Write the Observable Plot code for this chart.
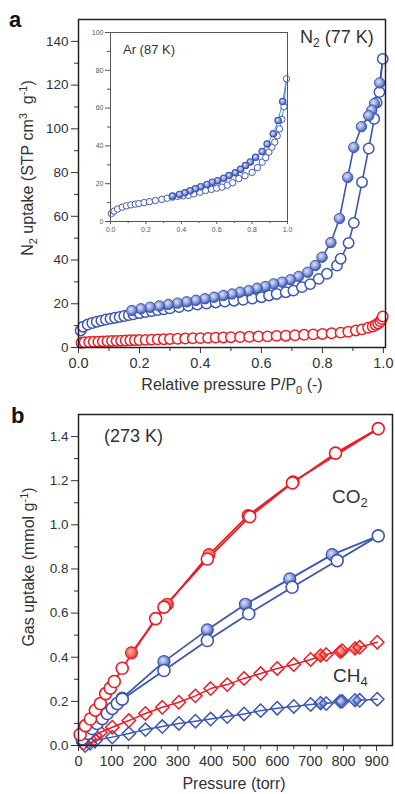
<!DOCTYPE html>
<html><head><meta charset="utf-8">
<script src="https://cdn.jsdelivr.net/npm/d3@7"></script>
<script src="https://cdn.jsdelivr.net/npm/@observablehq/plot@0.6"></script>
<style>
body{margin:0;background:#fff;}
#wrap{position:relative;width:395px;height:794px;overflow:hidden;font-family:"Liberation Sans",Arial,sans-serif;}
#wrap svg{position:absolute;overflow:visible;}
</style></head><body><div id="wrap"></div>
<script>
// ---------- Panel a: N2 at 77 K ----------
const n2BlueAdsX = [0.007,0.015,0.03,0.045,0.06,0.075,0.09,0.105,0.12,0.135,0.15,0.165,0.18,0.2,0.22,0.24,0.26,0.28,0.30,0.33,0.36,0.39,0.42,0.45,0.48,0.51,0.54,0.57,0.60,0.625,0.65,0.68,0.705,0.733,0.76,0.788,0.815,0.848,0.86,0.886,0.903,0.93,0.952,0.970,0.978,0.987,0.998];
const n2BlueAdsY = [7.8,9.5,10.5,11.2,11.8,12.3,12.8,13.2,13.6,14.0,14.4,14.8,15.2,15.7,16.2,16.7,17.1,17.5,17.9,18.5,19.1,19.6,20.1,20.6,21.0,21.4,21.8,22.4,23.0,23.8,24.5,25.3,26.0,27.6,29.0,31.4,33.7,37.5,40.6,47.8,57,75.6,91,104.6,112,116.8,132];
const n2BlueDesX = [0.998,0.988,0.971,0.962,0.952,0.928,0.903,0.883,0.856,0.828,0.799,0.777,0.752,0.722,0.695,0.668,0.64,0.613,0.586,0.558,0.53,0.504,0.475,0.445,0.415,0.385,0.355,0.325,0.295,0.265,0.235,0.205,0.175];
const n2BlueDesY = [132,121,111.6,108.5,106,101,91.5,77.8,59,48,41.3,37.5,34.4,32.5,31,29.9,29.1,27.9,27.1,26,25.3,24.5,23.8,23.0,22.3,21.6,20.9,20.3,19.7,19.0,18.4,17.7,16.9];
const n2RedX = [0.01,0.02,0.035,0.05,0.065,0.08,0.095,0.11,0.125,0.14,0.155,0.17,0.185,0.2,0.22,0.24,0.26,0.28,0.3,0.325,0.35,0.375,0.4,0.425,0.45,0.475,0.5,0.53,0.56,0.59,0.62,0.65,0.68,0.71,0.74,0.77,0.8,0.83,0.86,0.885,0.91,0.93,0.95,0.965,0.975,0.983,0.99,0.995,0.998];
const n2RedY = [2.2,2.4,2.5,2.6,2.7,2.8,2.9,3.0,3.05,3.1,3.2,3.3,3.35,3.4,3.5,3.6,3.7,3.8,3.9,4.0,4.1,4.2,4.3,4.4,4.5,4.6,4.7,4.8,4.9,5.0,5.1,5.3,5.4,5.6,5.8,6.0,6.2,6.5,6.8,7.2,7.8,8.3,9.0,9.6,10.3,11.0,12.0,13.0,14.2];
const n2TicksY = [0,20,40,60,80,100,120,140];
const n2MinorY = [10,30,50,70,90,110,130];
const ppTicks = [0,0.2,0.4,0.6,0.8,1.0];
const ppMinor = [0.1,0.3,0.5,0.7,0.9];

// ---------- Inset: Ar at 87 K ----------
const arAdsX = [0.005,0.02,0.04,0.066,0.09,0.115,0.14,0.16,0.19,0.22,0.254,0.29,0.32,0.35,0.38,0.41,0.44,0.47,0.505,0.537,0.57,0.6,0.63,0.66,0.69,0.725,0.76,0.8,0.83,0.857,0.877,0.895,0.912,0.928,0.942,0.955,0.968,0.98,0.994];
const arAdsY = [4.2,5.5,6.6,7.6,8.3,8.8,9.2,9.5,10.0,10.5,11.1,11.7,12.3,12.9,13.3,13.6,13.8,14.6,15.5,16.4,17.0,17.6,18.2,19.2,20.5,22.7,24.2,26,28.5,31.4,33.8,36.7,39.3,42,45.3,49,54,60.8,75.5];
const arDesX = [0.994,0.973,0.947,0.92,0.885,0.857,0.82,0.79,0.763,0.735,0.705,0.67,0.64,0.605,0.575,0.545,0.51,0.48,0.45,0.42,0.39,0.35];
const arDesY = [75.5,63.5,53.4,46.4,41,37,34,31.5,29.6,27.6,25.8,24.3,22.9,21.6,20.8,19.6,18.4,17.3,16.3,15.2,14.3,13.5];
const arTicksY = [0,20,40,60,80,100];
const arMinorY = [10,30,50,70,90];

// ---------- Panel b: 273 K ----------
const co2RedAdsX = [5,21,36,51,66,82,96,108,132,233,258,389,517,646,776,905];
const co2RedAdsY = [0.05,0.09,0.12,0.16,0.19,0.235,0.26,0.29,0.35,0.575,0.627,0.845,1.037,1.19,1.325,1.436];
const co2RedDesX = [905,648,512,394,268,160];
const co2RedDesY = [1.436,1.195,1.042,0.865,0.64,0.42];
const co2BlueAdsX = [11,28,41,56,72,87,102,117,132,258,389,514,645,781,905];
const co2BlueAdsY = [0.03,0.055,0.077,0.1,0.122,0.145,0.168,0.19,0.21,0.34,0.476,0.597,0.717,0.838,0.95];
const co2BlueDesX = [905,766,638,504,389,258,132];
const co2BlueDesY = [0.95,0.865,0.755,0.64,0.524,0.38,0.215];
const ch4RedAdsX = [15,33,50,66,102,152,202,253,303,353,399,449,500,550,600,650,701,748,796,849,902];
const ch4RedAdsY = [0.01,0.03,0.045,0.06,0.083,0.113,0.145,0.173,0.196,0.225,0.258,0.276,0.304,0.326,0.349,0.367,0.39,0.412,0.43,0.445,0.468];
const ch4RedDesX = [731,790,835];
const ch4RedDesY = [0.408,0.425,0.44];
const ch4BlueAdsX = [20,35,51,102,152,202,253,303,353,399,449,500,550,600,650,701,748,796,849,902];
const ch4BlueAdsY = [0.0,0.01,0.023,0.038,0.054,0.072,0.086,0.1,0.11,0.12,0.131,0.143,0.158,0.169,0.177,0.186,0.19,0.2,0.205,0.21];
const ch4BlueDesX = [731,790,835];
const ch4BlueDesY = [0.192,0.2,0.205];
const gasTicksY = [0,0.2,0.4,0.6,0.8,1.0,1.2,1.4];
const gasMinorY = [0.1,0.3,0.5,0.7,0.9,1.1,1.3];
const torrTicks = [0,100,200,300,400,500,600,700,800,900];
const torrMinor = [50,150,250,350,450,550,650,750,850];

// ---------- helpers ----------
const zip = (xs, ys) => xs.map((x, i) => ({x, y: ys[i]}));
const BLUE = "#3c56b4", RED = "#ec1c24", INK = "#333";
const FONT = "'Liberation Sans', Arial, sans-serif";
const wrap = document.getElementById("wrap");

function place(svg, left, top) { svg.style.left = left + "px"; svg.style.top = top + "px"; wrap.appendChild(svg); return svg; }
function addText(svg, x, y, html, opts = {}) {
  const t = d3.select(svg).append("text")
    .attr("x", x).attr("y", y)
    .attr("font-family", FONT)
    .attr("font-size", opts.size || 16)
    .attr("font-weight", opts.weight || "normal")
    .attr("fill", opts.fill || INK)
    .attr("text-anchor", opts.anchor || "start");
  if (opts.rotate) t.attr("transform", `rotate(-90 ${x} ${y})`);
  t.html(html);
  return t;
}
const sub = (s, fs) => `<tspan dy="4" font-size="${fs}">${s}</tspan><tspan dy="-4">`;
const sup = (s, fs) => `<tspan dy="-6" font-size="${fs}">${s}</tspan><tspan dy="6">`;

// ---------- Panel a ----------
const pa = Plot.plot({
  width: 395, height: 392,
  marginTop: 19, marginBottom: 45, marginLeft: 78, marginRight: 10,
  x: {domain: [0, 1.007]},
  y: {domain: [0, 150]},
  style: {fontFamily: FONT, fontSize: "14px", color: INK, background: "transparent"},
  marks: [
    Plot.axisY({ticks: n2TicksY, tickSize: 7, tickPadding: 3, label: null, fontSize: 13.5}),
    Plot.axisY({ticks: n2MinorY, tickSize: 4, tickFormat: () => "", label: null}),
    Plot.axisX({ticks: ppTicks, tickSize: 6, tickPadding: 4, tickFormat: d3.format(".1f"), label: null, fontSize: 14.5}),
    Plot.axisX({ticks: ppMinor, tickSize: 4, tickFormat: () => "", label: null}),
    Plot.line(zip(n2BlueAdsX, n2BlueAdsY), {x: "x", y: "y", stroke: BLUE, strokeWidth: 1.6}),
    Plot.line(zip(n2BlueDesX, n2BlueDesY), {x: "x", y: "y", stroke: BLUE, strokeWidth: 1.6}),
    Plot.dot(zip(n2RedX, n2RedY), {x: "x", y: "y", r: 5.2, stroke: RED, strokeWidth: 1.5, fill: "white"}),
    Plot.dot(zip(n2BlueAdsX, n2BlueAdsY), {x: "x", y: "y", r: 5.2, stroke: BLUE, strokeWidth: 1.5, fill: "white"}),
    Plot.dot(zip(n2BlueDesX, n2BlueDesY).slice(1), {x: "x", y: "y", r: 5.2, stroke: BLUE, strokeWidth: 1, fill: "url(#gBlue)"}),
    Plot.frame({stroke: "#222", strokeWidth: 1.5})
  ]
});
place(pa, 0, 0);
d3.select(pa).insert("defs", ":first-child").html(`
  <radialGradient id="gBlue" cx="40%" cy="38%" r="62%">
    <stop offset="0" stop-color="#dde3f6"/><stop offset="0.55" stop-color="#8d9fdb"/><stop offset="1" stop-color="#3c56b4"/>
  </radialGradient>
  <radialGradient id="gRed" cx="40%" cy="38%" r="62%">
    <stop offset="0" stop-color="#f7b5a8"/><stop offset="0.55" stop-color="#ee7060"/><stop offset="1" stop-color="#e03a2a"/>
  </radialGradient>`);
addText(pa, 9, 27, "a", {size: 22, weight: "bold", fill: "#111"});
addText(pa, 300, 43, "N" + sub("2", 12) + " (77 K)</tspan>", {size: 18});
addText(pa, 33, 168, "N" + sub("2", 11) + " uptake (STP cm</tspan>" + sup("3", 11) + "  g</tspan>" + sup("-1", 11) + ")</tspan>", {size: 16, anchor: "middle", rotate: true});
addText(pa, 232, 390, "Relative pressure P/P" + sub("0", 11) + " (-)</tspan>", {size: 16, anchor: "middle"});

// ---------- Inset ----------
const pi = Plot.plot({
  width: 211, height: 215,
  marginTop: 7, marginBottom: 19, marginLeft: 26, marginRight: 8,
  x: {domain: [0, 1]},
  y: {domain: [0, 100]},
  style: {fontFamily: FONT, fontSize: "7px", color: "#555", background: "transparent"},
  marks: [
    Plot.axisY({ticks: arTicksY, tickSize: 5, tickPadding: 2, label: null, fontSize: 7}),
    Plot.axisY({ticks: arMinorY, tickSize: 3, tickFormat: () => "", label: null}),
    Plot.axisX({ticks: ppTicks, tickSize: 3, tickPadding: 3, tickFormat: d3.format(".1f"), label: null, fontSize: 7}),
    Plot.axisX({ticks: ppMinor, tickSize: 2, tickFormat: () => "", label: null}),
    Plot.line(zip(arAdsX, arAdsY), {x: "x", y: "y", stroke: "#3f8fd6", strokeWidth: 1}),
    Plot.line(zip(arDesX, arDesY), {x: "x", y: "y", stroke: "#3f8fd6", strokeWidth: 1}),
    Plot.dot(zip(arAdsX, arAdsY), {x: "x", y: "y", r: 3.2, stroke: "#4459bd", strokeWidth: 1, fill: "white"}),
    Plot.dot(zip(arDesX, arDesY).slice(1), {x: "x", y: "y", r: 3.2, stroke: "#3c56b4", strokeWidth: 1.2, fill: "url(#gBlue)"}),
    Plot.frame({stroke: "#555", strokeWidth: 1})
  ]
});
place(pi, 84, 25);
addText(pi, 39, 29, "Ar (87 K)", {size: 13});

// ---------- Panel b ----------
const pb = Plot.plot({
  width: 395, height: 402,
  marginTop: 22, marginBottom: 49, marginLeft: 78, marginRight: 3,
  x: {domain: [0, 948]},
  y: {domain: [0, 1.5]},
  style: {fontFamily: FONT, fontSize: "14px", color: INK, background: "transparent"},
  marks: [
    Plot.axisY({ticks: gasTicksY, tickSize: 7, tickPadding: 3, tickFormat: d3.format(".1f"), label: null, fontSize: 13.5}),
    Plot.axisY({ticks: gasMinorY, tickSize: 4, tickFormat: () => "", label: null}),
    Plot.axisX({ticks: torrTicks, tickSize: 6, tickPadding: 4, label: null, fontSize: 14.5}),
    Plot.axisX({ticks: torrMinor, tickSize: 4, tickFormat: () => "", label: null}),
    Plot.line(zip(ch4BlueAdsX, ch4BlueAdsY), {x: "x", y: "y", stroke: BLUE, strokeWidth: 1.5}),
    Plot.line(zip(ch4RedAdsX, ch4RedAdsY), {x: "x", y: "y", stroke: RED, strokeWidth: 1.5}),
    Plot.line(zip(co2BlueAdsX, co2BlueAdsY), {x: "x", y: "y", stroke: BLUE, strokeWidth: 1.8}),
    Plot.line(zip(co2BlueDesX, co2BlueDesY), {x: "x", y: "y", stroke: BLUE, strokeWidth: 1.8}),
    Plot.line(zip(co2RedAdsX, co2RedAdsY), {x: "x", y: "y", stroke: RED, strokeWidth: 1.8}),
    Plot.line(zip(co2RedDesX, co2RedDesY), {x: "x", y: "y", stroke: RED, strokeWidth: 1.8}),
    Plot.dot(zip(ch4BlueDesX, ch4BlueDesY), {x: "x", y: "y", r: 6, symbol: "diamond2", stroke: BLUE, strokeWidth: 1.2, fill: "url(#gBlue)"}),
    Plot.dot(zip(ch4BlueAdsX, ch4BlueAdsY), {x: "x", y: "y", r: 6, symbol: "diamond2", stroke: BLUE, strokeWidth: 1.5, fill: "none"}),
    Plot.dot(zip(ch4RedDesX, ch4RedDesY), {x: "x", y: "y", r: 6, symbol: "diamond2", stroke: RED, strokeWidth: 1.2, fill: "url(#gRed)"}),
    Plot.dot(zip(ch4RedAdsX, ch4RedAdsY), {x: "x", y: "y", r: 6, symbol: "diamond2", stroke: RED, strokeWidth: 1.5, fill: "none"}),
    Plot.dot(zip(co2BlueDesX, co2BlueDesY).slice(1), {x: "x", y: "y", r: 6, stroke: BLUE, strokeWidth: 1.2, fill: "url(#gBlue)"}),
    Plot.dot(zip(co2BlueAdsX, co2BlueAdsY), {x: "x", y: "y", r: 6, stroke: BLUE, strokeWidth: 1.6, fill: "white"}),
    Plot.dot(zip(co2RedDesX, co2RedDesY).slice(1), {x: "x", y: "y", r: 6, stroke: RED, strokeWidth: 1.2, fill: "url(#gRed)"}),
    Plot.dot(zip(co2RedAdsX, co2RedAdsY), {x: "x", y: "y", r: 6, stroke: RED, strokeWidth: 1.6, fill: "white"}),
    Plot.frame({stroke: "#222", strokeWidth: 1.5})
  ]
});
place(pb, 0, 392);
addText(pb, 11, 31, "b", {size: 22, weight: "bold", fill: "#111"});
addText(pb, 104, 50, "(273 K)", {size: 18});
addText(pb, 332, 111, "CO" + sub("2", 13) + "</tspan>", {size: 19});
addText(pb, 333, 290, "CH" + sub("4", 13) + "</tspan>", {size: 19});
addText(pb, 34, 175, "Gas uptake (mmol g" + sup("-1", 11) + ")</tspan>", {size: 16, anchor: "middle", rotate: true});
addText(pb, 234, 397, "Pressure (torr)", {size: 16, anchor: "middle"});
</script>
</body></html>
